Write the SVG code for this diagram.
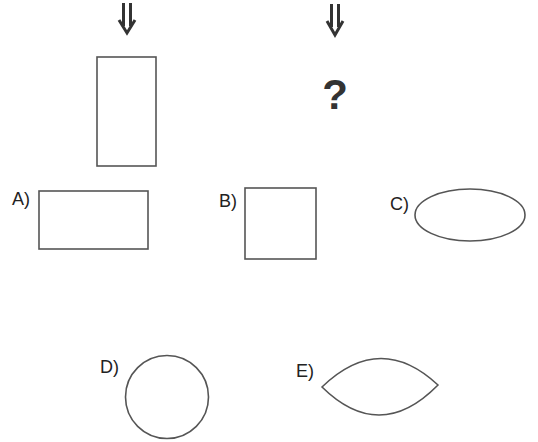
<svg xmlns="http://www.w3.org/2000/svg" width="538" height="442" viewBox="0 0 538 442">
<style>
.s{fill:none;stroke:#555;stroke-width:1.6}
.a{fill:none;stroke:#333;stroke-width:3}
.t{font-family:"Liberation Sans",Arial,sans-serif;font-size:18px;fill:#222}
</style>
<rect width="538" height="442" fill="#fff"/>
<g id="connectors">
<path class="a" d="M123.5,3V26 M130.5,3V26 M119,20 L127,33 L135,20"/>
<path class="a" d="M331.5,4V27 M338.5,4V27 M327,21 L335,35 L343,21"/>
</g>
<g id="given"><rect class="s" x="97" y="57" width="59" height="109"/></g>
<g id="unknown"><text x="335" y="109" text-anchor="middle" style="font-family:'Liberation Sans',Arial,sans-serif;font-weight:bold;font-size:42px;fill:#333">?</text></g>
<g id="optA"><text class="t" x="12" y="205">A)</text><rect class="s" x="39" y="191" width="109" height="58"/></g>
<g id="optB"><text class="t" x="219" y="207">B)</text><rect class="s" x="245" y="188" width="71" height="71"/></g>
<g id="optC"><text class="t" x="390" y="210">C)</text><ellipse class="s" cx="470" cy="215" rx="55" ry="26"/></g>
<g id="optD"><text class="t" x="100" y="373">D)</text><circle class="s" cx="167" cy="397" r="41.5"/></g>
<g id="optE"><text class="t" x="296" y="377">E)</text><path class="s" d="M322,387 Q380,331 438,385 Q380,444 322,387 Z"/></g>
</svg>
